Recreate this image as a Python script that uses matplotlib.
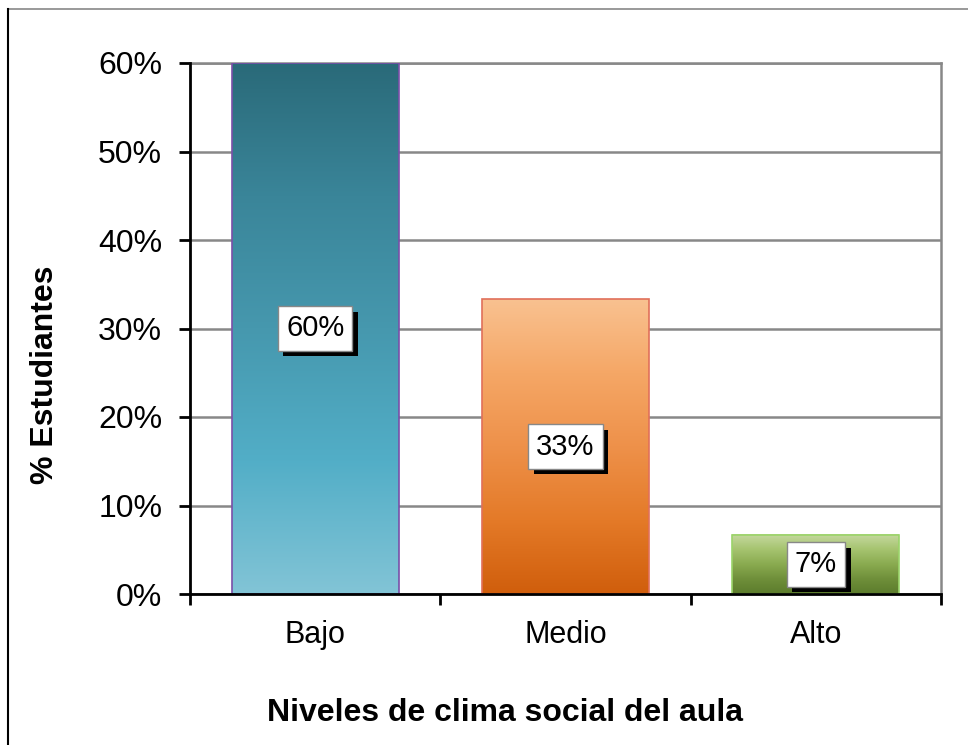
import numpy as np
import matplotlib.pyplot as plt
import matplotlib.patheffects as pe
from matplotlib.colors import LinearSegmentedColormap
from matplotlib.lines import Line2D

plt.rcParams['font.family'] = ['Liberation Sans', 'DejaVu Sans']

categories = ['Bajo', 'Medio', 'Alto']
values = [60.0, 33.3, 6.7]
labels = ['60%', '33%', '7%']
# gradient stops top -> bottom
bar_gradients = [
    ['#2a6a79', '#3a8599', '#4698ae', '#52aec7', '#82c4d6'],
    ['#f9c190', '#f5a766', '#ee914a', '#e47a28', '#d05e0c'],
    ['#c6d9a0', '#a6c470', '#8aab50', '#6f8f3a', '#5c7c2c'],
]
edge_colors = ['#7a4fa8', '#e0705a', '#9bd46a']
yticks = [0, 10, 20, 30, 40, 50, 60]

fig = plt.figure(figsize=(9.68, 7.45), dpi=100)
ax = fig.add_axes([190 / 968, 1 - 594 / 745, 751 / 968, 531 / 745])

x = np.arange(len(categories))
width = 0.667
bars = ax.bar(x, values, width=width, color='none', edgecolor='none', zorder=3)

grad = np.linspace(0, 1, 256).reshape(-1, 1)
for i, b in enumerate(bars):
    cmap = LinearSegmentedColormap.from_list('g%d' % i, bar_gradients[i])
    x0, w, h = b.get_x(), b.get_width(), b.get_height()
    ax.imshow(grad, cmap=cmap, aspect='auto', extent=[x0, x0 + w, 0, h],
              origin='upper', zorder=3, interpolation='bilinear')
    ax.add_patch(plt.Rectangle((x0, 0), w, h, fill=False, edgecolor=edge_colors[i],
                               lw=1.2, zorder=4))
    t = ax.text(x[i], h / 2, labels[i], ha='center', va='center', fontsize=21, zorder=6,
                bbox=dict(boxstyle='square,pad=0.28', fc='white', ec='#888888', lw=1))
    t.get_bbox_patch().set_path_effects([
        pe.SimplePatchShadow(offset=(4, -4), shadow_rgbFace='black', alpha=1.0),
        pe.Normal()])

ax.set_xlim(-0.5, 2.5)
ax.set_ylim(0, 60)
ax.set_yticks(yticks)
ax.set_yticklabels(['%d%%' % t for t in yticks], fontsize=23)
ax.yaxis.grid(True, color='#888888', lw=1.8, zorder=1)
ax.set_axisbelow(True)
ax.set_xticks([-0.5, 0.5, 1.5, 2.5])
ax.set_xticklabels([])
ax.set_xticks(x, minor=True)
ax.set_xticklabels(categories, minor=True, fontsize=22)
ax.tick_params(axis='x', which='minor', length=0, pad=19)
ax.tick_params(axis='x', which='major', direction='out', length=8, width=2)
ax.tick_params(axis='y', direction='out', length=8, width=2, pad=12)

for s in ['left', 'bottom']:
    ax.spines[s].set_linewidth(2)
    ax.spines[s].set_zorder(7)
ax.spines['right'].set_color('#888888')
ax.spines['right'].set_linewidth(1.8)
ax.spines['top'].set_color('#888888')
ax.spines['top'].set_linewidth(1.8)

ax.set_ylabel('% Estudiantes', fontsize=23, fontweight='bold', va='center')
ax.yaxis.set_label_coords((45 - 190) / 751, (594 - 375) / 531)
ax.set_xlabel('Niveles de clima social del aula', fontsize=23, fontweight='bold', va='center')
ax.xaxis.set_label_coords((505 - 190) / 751, -(713 - 594) / 531)

# outer frame (top and left only)
fig.add_artist(Line2D([8 / 968, 1], [1 - 9 / 745, 1 - 9 / 745], color='#888888', lw=1.2))
fig.add_artist(Line2D([8 / 968, 8 / 968], [0, 1 - 9 / 745], color='black', lw=1.5))

fig.savefig('out.png', dpi=100)
